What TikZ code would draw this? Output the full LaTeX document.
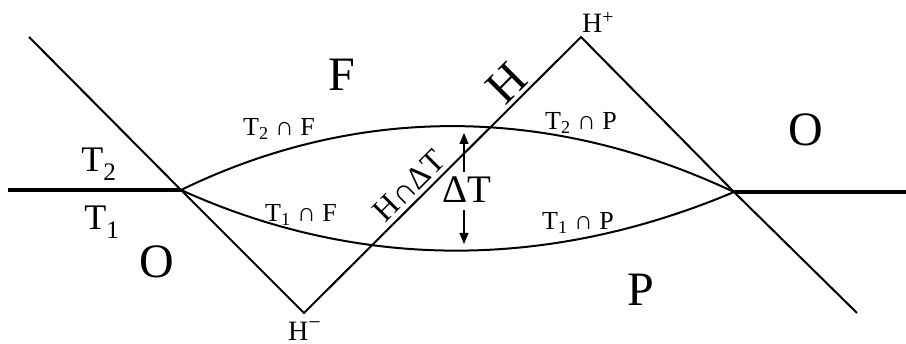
\documentclass[tikz,border=0pt]{standalone}
\usepackage{fontspec}
\setmainfont{Liberation Serif}
\usetikzlibrary{arrows.meta}
\tikzset{
  thin line/.style={line width=2pt},
  thick line/.style={line width=4.5pt},
  big/.style={font=\fontsize{48}{48}\selectfont, inner sep=0pt},
  mid/.style={font=\fontsize{36}{36}\selectfont, inner sep=0pt},
  small/.style={font=\fontsize{26}{26}\selectfont, inner sep=0pt},
  tiny/.style={font=\fontsize{28}{28}\selectfont, inner sep=0pt},
  arr/.style={line width=1.2pt, -{Triangle[length=11pt,width=9pt]}}
}
\begin{document}
\begin{tikzpicture}[x=1pt,y=-1pt]
\useasboundingbox[fill=white] (0,0) rectangle (906,344);
% key points
\coordinate (E1) at (8,190);
\coordinate (L) at (181,190);
\coordinate (R) at (734,192);
\coordinate (E2) at (906,192);
\coordinate (A) at (29,37);
\coordinate (Hm) at (304,313);
\coordinate (Hp) at (581,37);
\coordinate (B) at (857,313);
% thick boundary
\draw[thick line] (E1) -- (L);
\draw[thick line] (R) -- (E2);
% light-cone lines
\draw[thin line, line join=miter] (A) -- (L) -- (Hm) -- (Hp) -- (R) -- (B);
% curves
\draw[thin line] (L) .. controls (358,104) and (549,105) .. (R);
\draw[thin line] (L) .. controls (360,271) and (549,270) .. (R);
% arrows
\coordinate (a1) at (464,172);
\coordinate (a2) at (464,133);
\coordinate (b1) at (464,210);
\coordinate (b2) at (464,244);
\draw[arr] (a1) -- (a2);
\draw[arr] (b1) -- (b2);
% labels
\node[big] (F) at (342,75) {F};
\node[big] (O1) at (157,262) {O};
\node[big] (O2) at (806,130) {O};
\node[big] (P) at (641,290) {P};
\node[big, rotate=45] (H) at (507,83) {H};
\node[font=\fontsize{39}{39}\selectfont, inner sep=0pt] (DT) at (467,190) {ΔT};
\node[font=\fontsize{32}{32}\selectfont, inner sep=0pt, rotate=45] (HDT) at (409,186) {H∩ΔT};
\node[small, anchor=base] (t2f) at (279,136) {T\textsubscript{2} ∩ F};
\node[small, anchor=base] (t1f) at (301,222) {T\textsubscript{1} ∩ F};
\node[small, anchor=base] (t2p) at (581,130) {T\textsubscript{2} ∩ P};
\node[small, anchor=base] (t1p) at (578,230) {T\textsubscript{1} ∩ P};
\node[mid, anchor=base] (T2) at (99,172) {T\textsubscript{2}};
\node[mid, anchor=base] (T1) at (102,230) {T\textsubscript{1}};
\node[tiny, anchor=base west] (Hplus) at (582,33) {H\textsuperscript{+}};
\node[tiny, anchor=base west] (Hminus) at (288,341) {H\raisebox{0.4em}{\fontsize{22}{22}\selectfont −}};
\end{tikzpicture}
\end{document}
